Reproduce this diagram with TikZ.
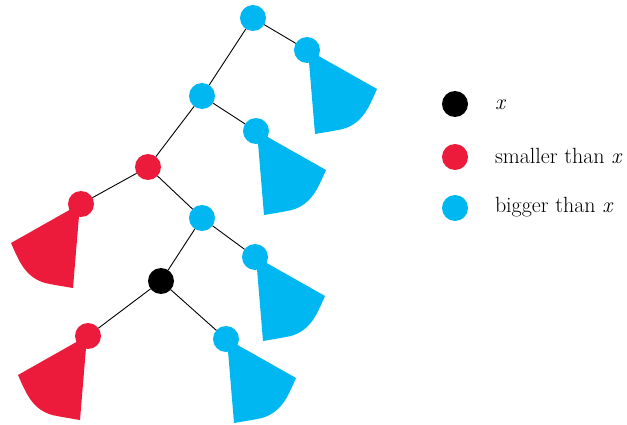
\documentclass[tikz,border=0pt]{standalone}
\usepackage{fontspec}
\usepackage{tikz}

\definecolor{smallred}{RGB}{237,27,59}
\definecolor{bigblue}{RGB}{0,183,241}

\begin{document}
\begin{tikzpicture}[x=1pt,y=-1pt,every node/.style={outer sep=0pt},
  key/.style={circle, minimum size=26pt, inner sep=0pt},
  edge/.style={draw=black, line width=0.9pt},
  legendtext/.style={anchor=base west, inner sep=0pt, font=\fontsize{22}{25}\selectfont},
  subtree/.pic={\path[pic actions] (1,0) -- (70,39) .. controls (62,57) and (56,73) .. (36,79) .. controls (26,81) .. (8,84) -- cycle;}]
\useasboundingbox (0,0) rectangle (627,425);
\node[key, fill=bigblue] (root) at (253,18) {};
\node[key, fill=bigblue] (rootright) at (307,50) {};
\node[key, fill=bigblue] (upper) at (202,96) {};
\node[key, fill=bigblue] (upperright) at (256,131) {};
\node[key, fill=smallred] (pred) at (148,167) {};
\node[key, fill=smallred] (predleft) at (81,204) {};
\node[key, fill=bigblue] (lower) at (202,218) {};
\node[key, fill=bigblue] (lowerright) at (255,257) {};
\node[key, fill=black] (x) at (161,281) {};
\node[key, fill=smallred] (xleft) at (88,336) {};
\node[key, fill=bigblue] (xright) at (226,339) {};
\pic[fill=bigblue] at (rootright) {subtree};
\pic[fill=bigblue] at (upperright) {subtree};
\pic[fill=bigblue] at (lowerright) {subtree};
\pic[fill=bigblue] at (xright) {subtree};
\pic[fill=smallred, xscale=-1] at (predleft) {subtree};
\pic[fill=smallred, xscale=-1] at (xleft) {subtree};
\draw[edge] (root) -- (rootright);
\draw[edge] (root) -- (upper);
\draw[edge] (upper) -- (upperright);
\draw[edge] (upper) -- (pred);
\draw[edge] (pred) -- (predleft);
\draw[edge] (pred) -- (lower);
\draw[edge] (lower) -- (lowerright);
\draw[edge] (lower) -- (x);
\draw[edge] (x) -- (xleft);
\draw[edge] (x) -- (xright);
\node[key, fill=black] (keyx) at (455,104) {};
\node[key, fill=smallred] (keysmall) at (455,157) {};
\node[key, fill=bigblue] (keybig) at (455,208) {};
\node[legendtext] (textx) at (495,110) {\textit{x}};
\node[legendtext] (textsmall) at (495,164) {smaller than \textit{x}};
\node[legendtext] (textbig) at (495,212) {bigger than \textit{x}};
\end{tikzpicture}
\end{document}
